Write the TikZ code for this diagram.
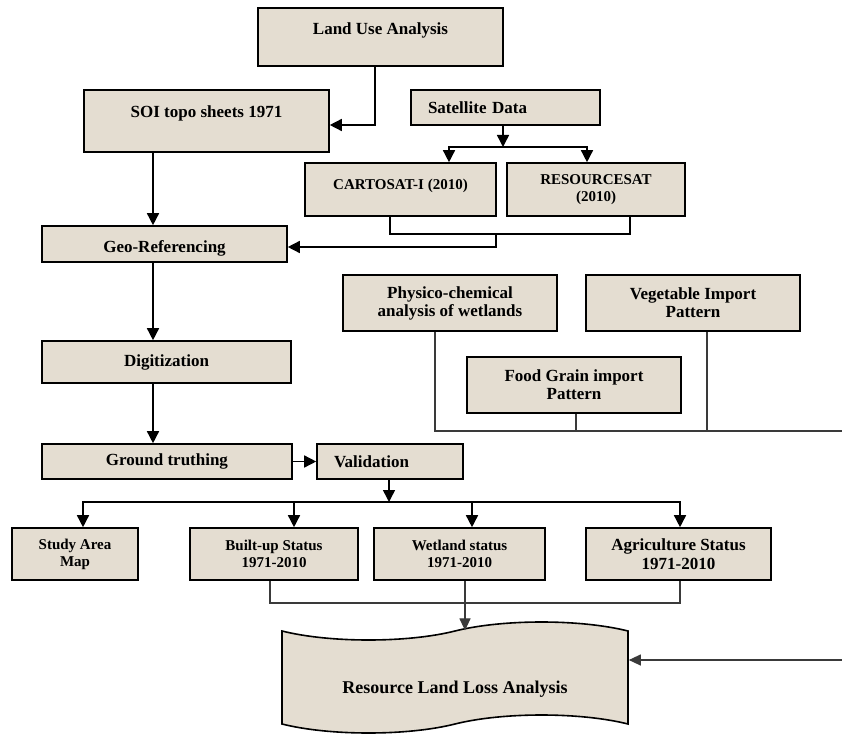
\documentclass[tikz,border=0pt]{standalone}
\usepackage{fontspec}
\setmainfont{Liberation Serif}
\usetikzlibrary{arrows.meta,shapes.symbols}
\definecolor{boxfill}{HTML}{E4DDD1}
\definecolor{linkgray}{HTML}{3A3A3A}
\tikzset{
  block/.style={draw,line width=1.6pt,fill=boxfill,align=center,inner sep=0pt,
    font=\bfseries\fontsize{17}{18}\selectfont},
  smallblock/.style={block,font=\bfseries\fontsize{15}{17}\selectfont},
  tapebox/.style={block,shape=tape,tape bend top=in and out,tape bend bottom=in and out,
    tape bend height=18pt,font=\bfseries\fontsize{18}{20}\selectfont},
  flow/.style={-{Triangle[length=12pt,width=12pt]},line width=1.5pt},
  link/.style={line width=1.1pt,draw=linkgray},
  linkflow/.style={link,-{Triangle[length=12pt,width=11pt]}}
}
\begin{document}
\begin{tikzpicture}[x=1pt,y=-1pt]
  \useasboundingbox (0,0) rectangle (842,735);

  % Sources
  \node[block,minimum width=245pt,minimum height=58pt,text depth=16pt] (landuse) at (380.5,37) {Land Use Analysis};
  \node[block,minimum width=245pt,minimum height=62pt,text depth=19.5pt] (soi) at (206.5,121) {SOI topo sheets 1971};
  \node[block,minimum width=189pt,minimum height=35pt,text width=155pt,align=left] (satellite) at (505.5,107.5) {Satellite Data};
  \node[smallblock,minimum width=191pt,minimum height=53pt,text depth=11pt] (cartosat) at (400.5,189.5) {CARTOSAT-I (2010)};
  \node[smallblock,minimum width=178pt,minimum height=53pt] (resourcesat) at (596,189.5) {RESOURCESAT\\(2010)};

  % Processing chain
  \node[block,minimum width=245pt,minimum height=36pt,text height=16pt,text depth=0pt] (georef) at (164.5,244) {Geo-Referencing};
  \node[block,minimum width=249pt,minimum height=42pt] (digit) at (166.5,362) {Digitization};
  \node[block,minimum width=250pt,minimum height=35pt] (ground) at (167,461.5) {Ground truthing};
  \node[block,minimum width=146pt,minimum height=35pt,text width=112pt,align=left] (valid) at (390,461.5) {Validation};

  % Side inputs
  \node[block,minimum width=214pt,minimum height=56pt] (physico) at (450,303) {Physico-chemical\\analysis of wetlands};
  \node[block,minimum width=214pt,minimum height=56pt] (vegetable) at (693,303) {Vegetable Import\\Pattern};
  \node[block,minimum width=214pt,minimum height=56pt] (foodgrain) at (574,385) {Food Grain import\\Pattern};

  % Outputs
  \node[smallblock,minimum width=126pt,minimum height=52pt] (study) at (75,554) {Study Area\\Map};
  \node[smallblock,minimum width=168pt,minimum height=52pt] (builtup) at (274,554) {Built-up Status\\1971-2010};
  \node[smallblock,minimum width=171pt,minimum height=52pt] (wetland) at (459.5,554) {Wetland status\\1971-2010};
  \node[block,minimum width=185pt,minimum height=52pt,font=\bfseries\fontsize{17}{19}\selectfont] (agri) at (678.5,554) {Agriculture Status\\1971-2010};
  \node[tapebox,minimum width=346pt,minimum height=111pt,text height=34pt,text depth=3pt] (rloss) at (455,677.5) {Resource Land Loss Analysis};

  % Junctions
  \coordinate (spine) at (153,0);
  \coordinate (satsplit) at (503,147);
  \coordinate (geojoin) at (496,234);
  \coordinate (valsplit) at (389,502);
  \coordinate (gather) at (465,603);
  \coordinate (rgather) at (842,431);
  \coordinate (rin) at (842,660);

  % Arrows
  \draw[flow] ([xshift=-5.5pt]landuse.south) |- ([yshift=-4pt]soi.east);
  \draw[flow] (soi.south -| spine) -- (georef.north -| spine);
  \draw[flow] (georef.south -| spine) -- (digit.north -| spine);
  \draw[flow] (digit.south -| spine) -- (ground.north -| spine);
  \draw[flow] (ground.east) -- (valid.west);

  \draw[flow] (satellite.south -| satsplit) -- (satsplit);
  \draw[flow] (satsplit) -| ([xshift=48.5pt]cartosat.north);
  \draw[flow] (satsplit) -| ([xshift=-9pt]resourcesat.north);
  \draw[line width=1.3pt] ([xshift=-10.5pt]cartosat.south) |- (geojoin) -| ([xshift=34pt]resourcesat.south);
  \draw[flow] (geojoin) |- ([yshift=-3pt]georef.east);

  \draw[flow] (valid.south -| valsplit) -- (valsplit);
  \draw[flow] (valsplit) -| ([xshift=8pt]study.north);
  \draw[flow] (valsplit) -| ([xshift=20pt]builtup.north);
  \draw[flow] (valsplit) -| ([xshift=12.5pt]wetland.north);
  \draw[flow] (valsplit) -| ([xshift=1.5pt]agri.north);

  \draw[link] ([xshift=-4pt]builtup.south) |- (gather) -| ([xshift=1.5pt]agri.south);
  \draw[link] (wetland.south -| gather) -- (gather);
  \draw[linkflow] (gather) -- (rloss.north -| gather);

  \draw[link] ([xshift=-15pt]physico.south) |- (rgather);
  \draw[link] ([xshift=2pt]foodgrain.south) -- ([xshift=2pt]foodgrain.south |- rgather);
  \draw[link] ([xshift=14pt]vegetable.south) -- ([xshift=14pt]vegetable.south |- rgather);
  \draw[linkflow] (rin) -- (rin -| rloss.east);
\end{tikzpicture}
\end{document}
